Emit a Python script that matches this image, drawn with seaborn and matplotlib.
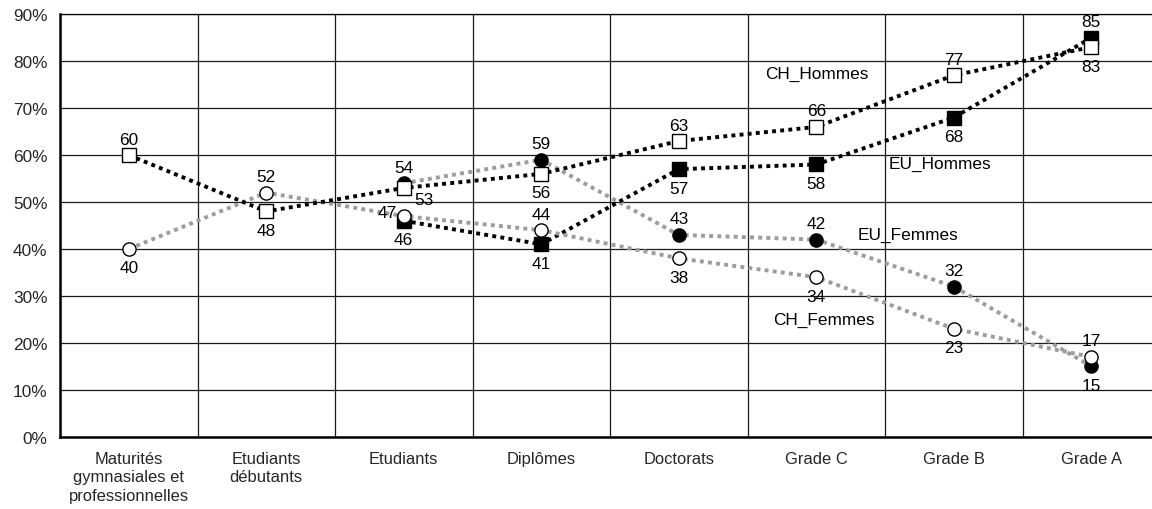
import numpy as np
import matplotlib
matplotlib.use("Agg")
import matplotlib.pyplot as plt
import seaborn as sns

# ---- data -------------------------------------------------------------
categories = [
    "Maturités\ngymnasiales et\nprofessionnelles",
    "Etudiants\ndébutants",
    "Etudiants",
    "Diplômes",
    "Doctorats",
    "Grade C",
    "Grade B",
    "Grade A",
]
ch_hommes = [60, 48, 53, 56, 63, 66, 77, 83]
eu_hommes = [np.nan, np.nan, 46, 41, 57, 58, 68, 85]
ch_femmes = [40, 52, 47, 44, 38, 34, 23, 17]
eu_femmes = [np.nan, np.nan, 54, 59, 43, 42, 32, 15]
y_ticks = [0, 10, 20, 30, 40, 50, 60, 70, 80, 90]

# where each value label sits relative to its marker (a=above, b=below, r=right, l=left)
ch_hommes_lab = ["a", "b", "r", "b", "a", "a", "a", "b"]
eu_hommes_lab = [None, None, "b", "b", "b", "b", "b", "a"]
ch_femmes_lab = ["b", "a", "l", "a", "b", "b", "b", "a"]
eu_femmes_lab = [None, None, "a", "a", "a", "a", "a", "b"]

# ---- style ------------------------------------------------------------
sns.set_style("white")
plt.rcParams["font.family"] = ["Liberation Sans", "DejaVu Sans"]
FS = 12.4
FS_X = 11.9
GREY = "#9c9c9c"

series = [
    # name, values, label spots, line colour, marker, face colour, name position
    ("EU_Femmes", eu_femmes, eu_femmes_lab, GREY, "o", "black", (5.30, 43.2)),
    ("EU_Hommes", eu_hommes, eu_hommes_lab, "black", "s", "black", (5.53, 58.2)),
    ("CH_Femmes", ch_femmes, ch_femmes_lab, GREY, "o", "white", (4.69, 24.9)),
    ("CH_Hommes", ch_hommes, ch_hommes_lab, "black", "s", "white", (4.63, 77.3)),
]

PX = 0.72  # points per pixel at 100 dpi
offsets_px = {"a": (0, 16), "b": (0, -19), "r": (20, -12), "l": (-16, 4)}

fig = plt.figure(figsize=(11.52, 5.10), dpi=100)
ax = fig.add_axes([60 / 1152, 72.3 / 510, 1100 / 1152, 422.4 / 510])

x = np.arange(len(categories))
for name, vals, labs, color, marker, face, npos in series:
    sns.lineplot(
        x=x, y=vals, ax=ax, color=color, linewidth=2.8,
        marker=marker, markersize=9.5, markerfacecolor=face,
        markeredgecolor="black", markeredgewidth=1.0,
        errorbar=None,
    )
    line = ax.lines[-1]
    line.set_linestyle((0, (1.0, 1.1)))
    line.set_dash_capstyle("butt")
    for xi, v, pos in zip(x, vals, labs):
        if pos is None or np.isnan(v):
            continue
        dx, dy = offsets_px[pos]
        ax.annotate(f"{v:.0f}", (xi, v), xytext=(dx * PX, dy * PX),
                    textcoords="offset points", ha="center", va="center",
                    fontsize=FS, color="black", zorder=5)
    ax.text(npos[0], npos[1], name, ha="left", va="center", fontsize=FS,
            color="black", zorder=5)

# ---- axes -------------------------------------------------------------
ax.set_xlim(-0.5, 7.5)
ax.set_ylim(0, 90)
ax.set_xticks(x)
ax.set_xticklabels(categories, fontsize=FS_X, linespacing=1.3)
ax.set_xticks(np.arange(-0.5, 8, 1), minor=True)
ax.set_yticks(y_ticks)
ax.set_yticklabels([f"{t}%" for t in y_ticks], fontsize=FS)
ax.set_xlabel("")
ax.set_ylabel("")

ax.tick_params(axis="x", which="major", length=0, pad=10)
ax.tick_params(axis="x", which="minor", length=5, width=0.9, color="black", direction="out")
ax.tick_params(axis="y", which="major", length=4, width=0.9, color="black",
               direction="out", pad=5)

ax.grid(False)
ax.grid(True, which="minor", axis="x", color="#1a1a1a", linewidth=0.9)
ax.grid(True, which="major", axis="y", color="#1a1a1a", linewidth=0.9)
ax.set_axisbelow(True)

for side in ["left", "bottom"]:
    ax.spines[side].set_color("black")
    ax.spines[side].set_linewidth(1.8)
ax.spines["top"].set_color("black")
ax.spines["top"].set_linewidth(0.9)
ax.spines["right"].set_visible(False)

fig.savefig("out.png", dpi=100)
